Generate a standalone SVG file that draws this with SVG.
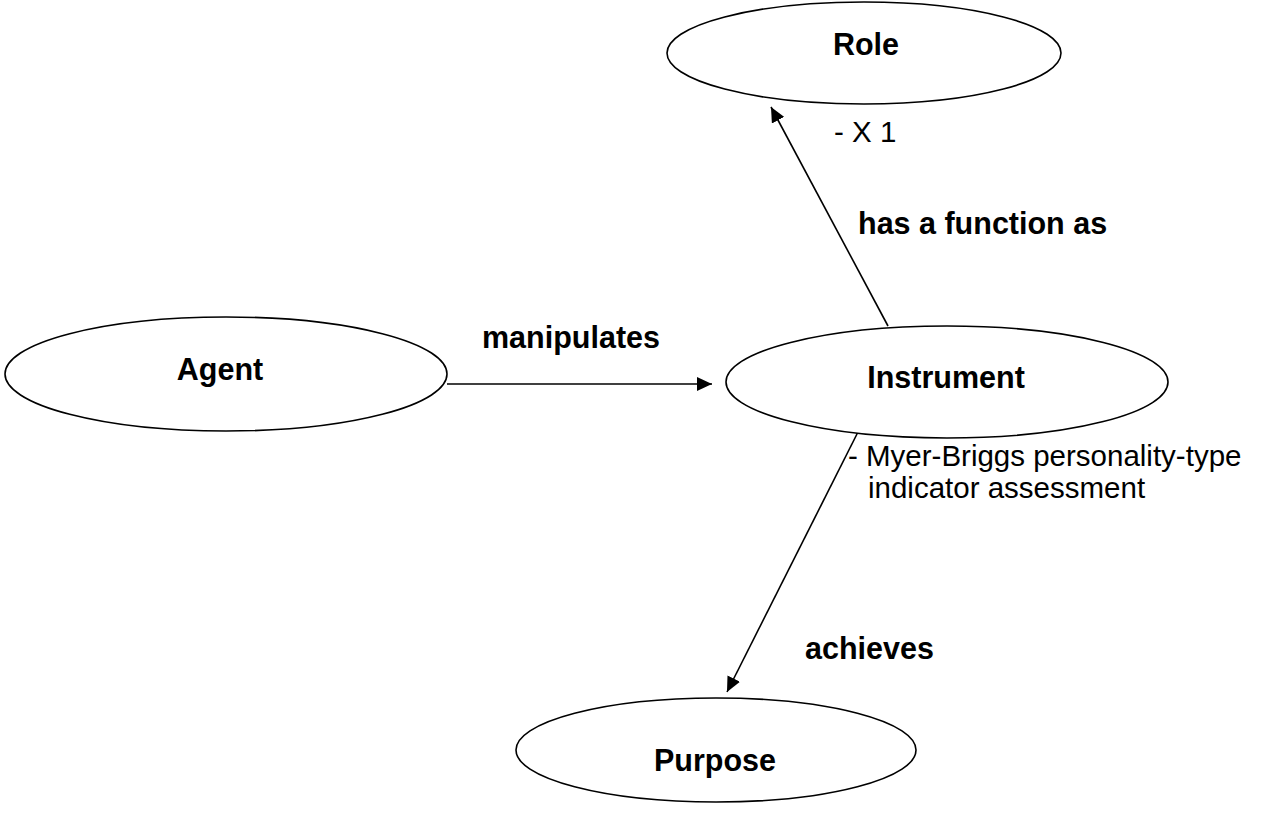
<svg xmlns="http://www.w3.org/2000/svg" width="1269" height="813" viewBox="0 0 1269 813">
<style>
.node{fill:#fff;stroke:#000;stroke-width:1.6}
.t{font-family:"Liberation Sans",Arial,sans-serif;font-size:30.5px;fill:#000}
.n{font-size:29.5px}
.b{font-weight:bold}
.edge{stroke:#000;stroke-width:1.6;fill:none}
</style>
<defs>
<marker id="arr" markerWidth="16" markerHeight="14" refX="15" refY="7" orient="auto" markerUnits="userSpaceOnUse">
<path d="M0,0 L15,7 L0,14 Z" fill="#000"/>
</marker>
</defs>
<rect width="1269" height="813" fill="#fff"/>
<g id="connectors">
<line class="edge" x1="447" y1="384" x2="712" y2="384" marker-end="url(#arr)"/>
<line class="edge" x1="888" y1="326" x2="771" y2="107" marker-end="url(#arr)"/>
<line class="edge" x1="859" y1="430" x2="727" y2="692" marker-end="url(#arr)"/>
<text class="t b" x="482" y="348">manipulates</text>
<text class="t b" x="858" y="234">has a function as</text>
<text class="t b" x="805" y="659">achieves</text>
</g>
<g id="role">
<ellipse class="node" cx="864" cy="53" rx="197" ry="51"/>
<text class="t b" x="866" y="55" text-anchor="middle">Role</text>
</g>
<g id="agent">
<ellipse class="node" cx="226" cy="374" rx="221" ry="57"/>
<text class="t b" x="220" y="380" text-anchor="middle">Agent</text>
</g>
<g id="instrument">
<ellipse class="node" cx="947" cy="382" rx="221" ry="56"/>
<text class="t b" x="946" y="388" text-anchor="middle">Instrument</text>
</g>
<g id="purpose">
<ellipse class="node" cx="716" cy="750" rx="200" ry="52"/>
<text class="t b" x="715" y="771" text-anchor="middle">Purpose</text>
</g>
<g id="notes">
<text class="t n" x="834" y="142">- X 1</text>
<text class="t n" x="848" y="466">- Myer-Briggs personality-type</text>
<text class="t n" x="868" y="498">indicator assessment</text>
</g>
</svg>
